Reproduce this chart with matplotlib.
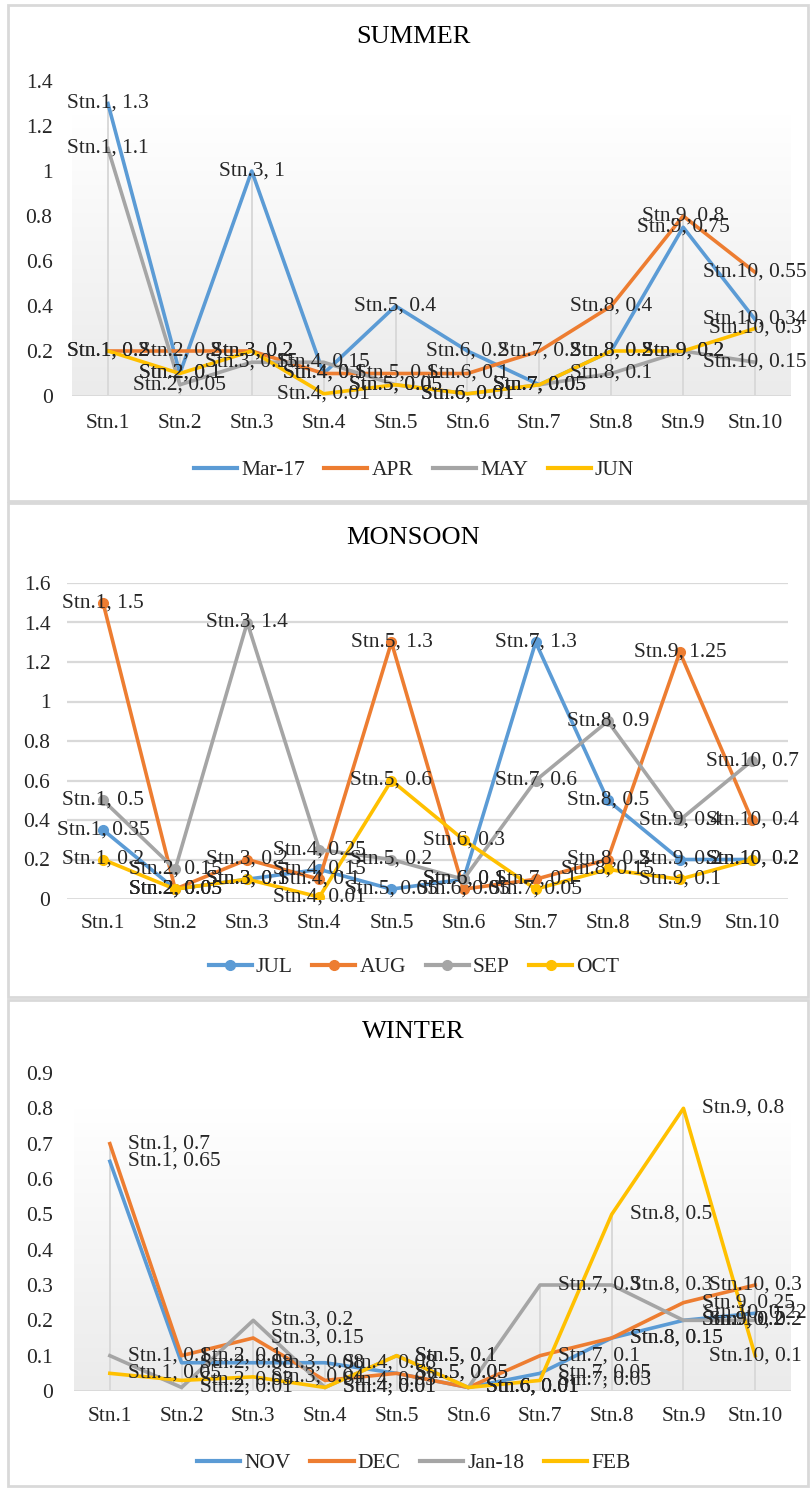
import numpy as np
import matplotlib
matplotlib.use('Agg')
import matplotlib.pyplot as plt
from matplotlib.patches import Rectangle
from matplotlib.lines import Line2D

plt.rcParams['font.family'] = ['Liberation Serif', 'DejaVu Serif']

stations = ['Stn.1', 'Stn.2', 'Stn.3', 'Stn.4', 'Stn.5',
            'Stn.6', 'Stn.7', 'Stn.8', 'Stn.9', 'Stn.10']

# summer
summer_names = ['Mar-17', 'APR', 'MAY', 'JUN']
mar17 = [1.3, 0.1, 1.0, 0.1, 0.4, 0.2, 0.05, 0.2, 0.75, 0.34]
apr = [0.2, 0.2, 0.2, 0.1, 0.1, 0.1, 0.2, 0.4, 0.8, 0.55]
may = [1.1, 0.05, 0.15, 0.15, 0.05, 0.01, 0.05, 0.1, 0.2, 0.15]
jun = [0.2, 0.1, 0.2, 0.01, 0.05, 0.01, 0.05, 0.2, 0.2, 0.3]

# monsoon
monsoon_names = ['JUL', 'AUG', 'SEP', 'OCT']
jul = [0.35, 0.05, 0.1, 0.15, 0.05, 0.1, 1.3, 0.5, 0.2, 0.2]
aug = [1.5, 0.05, 0.2, 0.1, 1.3, 0.05, 0.1, 0.2, 1.25, 0.4]
sep = [0.5, 0.15, 1.4, 0.25, 0.2, 0.1, 0.6, 0.9, 0.4, 0.7]
octo = [0.2, 0.05, 0.1, 0.01, 0.6, 0.3, 0.05, 0.15, 0.1, 0.2]

# winter
winter_names = ['NOV', 'DEC', 'Jan-18', 'FEB']
nov = [0.65, 0.08, 0.08, 0.08, 0.05, 0.01, 0.05, 0.15, 0.2, 0.22]
dec = [0.7, 0.1, 0.15, 0.03, 0.05, 0.01, 0.1, 0.15, 0.25, 0.3]
jan18 = [0.1, 0.01, 0.2, 0.01, 0.1, 0.01, 0.3, 0.3, 0.2, 0.2]
feb = [0.05, 0.03, 0.04, 0.01, 0.1, 0.01, 0.03, 0.5, 0.8, 0.1]

colors = ['#5B9BD5', '#ED7D31', '#A5A5A5', '#FFC000']
W, H = 810, 1488
FS = 15.5
TXT = '#262626'
GRID = '#d9d9d9'

fig = plt.figure(figsize=(W / 100, H / 100), dpi=100)


def rect(left, right, top, bottom):
    return [left / W, 1 - bottom / H, (right - left) / W, (bottom - top) / H]


def fmt(v):
    return ('%g' % v)


def panel_box(top, bottom):
    fig.patches.append(Rectangle((8 / W, 1 - bottom / H), 800 / W, (bottom - top) / H,
                                 transform=fig.transFigure, fill=False,
                                 edgecolor=GRID, linewidth=2))


def make_panel(pos, ymax, ystep, series, names, title, title_y, legend_y,
               xpad, ypad, markers, grad_top, label_right):
    ax = fig.add_axes(pos)
    x = np.arange(len(stations))
    ax.set_xlim(-0.5, len(stations) - 0.5)
    ax.set_ylim(0, ymax)
    for s in ax.spines.values():
        s.set_visible(False)
    ax.axhline(0, color=GRID, lw=2, zorder=1)
    if markers:
        for yv in np.arange(ystep, ymax + 1e-9, ystep):
            ax.axhline(yv, color=GRID, lw=1.6, zorder=0)
    else:
        # plot area fill: white at the top fading to light grey at the axis
        grad = np.linspace(0, 1, 256).reshape(-1, 1)
        ax.imshow(grad, extent=[-0.5, len(stations) - 0.5, 0, grad_top], aspect='auto',
                  cmap=matplotlib.colors.LinearSegmentedColormap.from_list('g', ['#ffffff', '#ebebeb']),
                  vmin=0, vmax=1, zorder=0)
        tops = np.max(np.array(series), axis=0)
        ax.vlines(x, 0, tops, color=GRID, lw=1.4, zorder=1)
    ticks = np.round(np.arange(0, ymax + 1e-9, ystep), 2)
    ax.set_yticks(ticks)
    ax.set_yticklabels([fmt(v) for v in ticks])
    ax.set_xticks(x)
    ax.set_xticklabels(stations)
    ax.tick_params(length=0, labelsize=FS, colors=TXT)
    ax.tick_params(axis='x', pad=xpad)
    ax.tick_params(axis='y', pad=ypad)
    for i, vals in enumerate(series):
        ax.plot(x, vals, color=colors[i], lw=2.6, solid_joinstyle='round',
                marker='o' if markers else None, markersize=7, zorder=3 + i)
    for i, vals in enumerate(series):
        for xi, v in zip(x, vals):
            lab = '%s, %s' % (stations[xi], fmt(v))
            if label_right and xi < len(stations) - 1:
                ax.annotate(lab, (xi, v), xytext=(13, 0), textcoords='offset points',
                            ha='left', va='center', fontsize=FS, color=TXT, zorder=10)
            else:
                ax.annotate(lab, (xi, v), ha='center', va='center', fontsize=FS,
                            color=TXT, zorder=10)
    ax.set_facecolor('none')
    fig.text(413 / W, 1 - title_y / H, title, ha='center', va='center', fontsize=19, color='black')
    handles = [Line2D([], [], color=c, lw=3, marker='o' if markers else None, markersize=7)
               for c in colors]
    fig.legend(handles, names, loc='center', bbox_to_anchor=(414 / W, 1 - legend_y / H),
               ncol=4, frameon=False, fontsize=FS, handlelength=2.0, handletextpad=0.2,
               columnspacing=0.9, labelcolor=TXT)
    return ax


panel_box(5, 501)
panel_box(503, 997)
panel_box(1000, 1486)

make_panel(rect(72, 791, 81, 396), 1.4, 0.2, [mar17, apr, may, jun], summer_names,
           'SUMMER', 37, 470, 13, 14, False, 1.25, False)
make_panel(rect(67, 788, 583, 899), 1.6, 0.2, [jul, aug, sep, octo], monsoon_names,
           'MONSOON', 538, 967, 11, 12, True, None, False)
make_panel(rect(74, 791, 1073, 1391), 0.9, 0.1, [nov, dec, jan18, feb], winter_names,
           'WINTER', 1032, 1463, 11.5, 15, False, 0.8, True)

fig.savefig('out.png', dpi=100, facecolor='white')
